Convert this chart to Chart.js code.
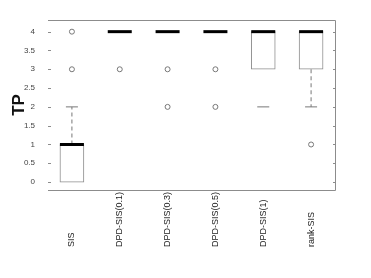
<!DOCTYPE html>
<html>
<head>
<meta charset="utf-8">
<script src="https://cdn.jsdelivr.net/npm/chart.js@4.4.1/dist/chart.umd.min.js"></script>
<style>
  html, body { margin: 0; padding: 0; background: #fff; }
  #wrap { width: 371px; height: 278px; }
</style>
</head>
<body>
<div id="wrap"><canvas id="graficoTP" width="371" height="278"></canvas></div>
<script>
const categorias = ['SIS', 'DPD-SIS(0.1)', 'DPD-SIS(0.3)', 'DPD-SIS(0.5)', 'DPD-SIS(1)', 'rank-SIS'];
const q1 = [0, 4, 4, 4, 3, 3];
const q3 = [1, 4, 4, 4, 4, 4];
const mediana = [1, 4, 4, 4, 4, 4];
const bigodeInf = [0, 4, 4, 4, 2, 2];
const bigodeSup = [2, 4, 4, 4, 4, 4];
const outliers = [[3, 4], [3], [2, 3], [2, 3], [], [1]];
const bigodeTracejado = [true, false, false, false, false, true]; // no DPD-SIS(1) so aparece a ponta
const yTicks = [0, 0.5, 1, 1.5, 2, 2.5, 3, 3.5, 4];

const cinza = '#8c8c8c';

// monta os pontos a partir dos arrays
const caixas = [];
const medianas = [];
const pontas = [];
const tracejado = [];
const pontosOut = [];
categorias.forEach((c, i) => {
    const x = i + 1;
    if (q3[i] > q1[i]) caixas.push({ x: x, y: [q1[i], q3[i]] });
    medianas.push({ x: x, y: mediana[i] });
    if (bigodeSup[i] > q3[i]) {
        pontas.push({ x: x, y: bigodeSup[i] });
        if (bigodeTracejado[i]) tracejado.push({ x: x, y: q3[i] }, { x: x, y: bigodeSup[i] }, { x: x, y: null });
    }
    if (bigodeInf[i] < q1[i]) {
        pontas.push({ x: x, y: bigodeInf[i] });
        if (bigodeTracejado[i]) tracejado.push({ x: x, y: q1[i] }, { x: x, y: bigodeInf[i] }, { x: x, y: null });
    }
    outliers[i].forEach(v => pontosOut.push({ x: x, y: v }));
});

// moldura, ticks internos e rotulos verticais do eixo x
const molduraPlugin = {
    id: 'moldura',
    afterDraw(chart) {
        const ctx = chart.ctx;
        const a = chart.chartArea;
        const ys = chart.scales.y;
        const xs = chart.scales.x;
        ctx.save();
        ctx.strokeStyle = cinza;
        ctx.lineWidth = 1;
        ctx.beginPath();
        ctx.moveTo(a.left, a.top + 0.5);
        ctx.lineTo(a.right + 0.5, a.top + 0.5);
        ctx.lineTo(a.right + 0.5, a.bottom + 0.5);
        ctx.lineTo(a.left, a.bottom + 0.5);
        yTicks.forEach(t => {
            const py = Math.round(ys.getPixelForValue(t)) + 0.5;
            ctx.moveTo(a.left, py);
            ctx.lineTo(a.left + 3, py);
            ctx.moveTo(a.right - 2, py);
            ctx.lineTo(a.right, py);
        });
        ctx.stroke();

        ctx.fillStyle = '#222';
        ctx.font = '9px "Liberation Sans", Arial, sans-serif';
        ctx.textAlign = 'left';
        ctx.textBaseline = 'middle';
        categorias.forEach((c, i) => {
            const px = xs.getPixelForValue(i + 1);
            ctx.save();
            ctx.translate(px, 247);
            ctx.rotate(-Math.PI / 2);
            ctx.fillText(c, 0, 0);
            ctx.restore();
        });
        ctx.restore();
    }
};

new Chart(document.getElementById('graficoTP').getContext('2d'), {
    data: {
        datasets: [
            {
                type: 'bar',
                data: caixas,
                backgroundColor: '#ffffff',
                borderColor: cinza,
                borderWidth: 1,
                borderSkipped: false,
                barThickness: 24,
                order: 5
            },
            {
                type: 'line',
                data: tracejado,
                borderColor: '#777777',
                borderWidth: 1,
                borderDash: [4, 3],
                pointRadius: 0,
                spanGaps: false,
                order: 4
            },
            {
                type: 'scatter',
                data: pontas,
                pointStyle: 'line',
                pointRadius: 6,
                borderColor: '#777777',
                borderWidth: 1,
                order: 3
            },
            {
                type: 'scatter',
                data: medianas,
                pointStyle: 'line',
                pointRadius: 12,
                borderColor: '#000000',
                borderWidth: 3,
                order: 1
            },
            {
                type: 'scatter',
                data: pontosOut,
                pointStyle: 'circle',
                pointRadius: 2.5,
                backgroundColor: '#ffffff',
                borderColor: '#777777',
                borderWidth: 1,
                order: 2
            }
        ]
    },
    options: {
        responsive: false,
        animation: false,
        events: [],
        layout: { padding: { top: 20, right: 36, left: 0, bottom: 0 } },
        plugins: { legend: { display: false }, tooltip: { enabled: false } },
        scales: {
            x: {
                type: 'linear',
                min: 0.5,
                max: 6.5,
                offset: false,
                grid: { display: false },
                border: { display: false },
                ticks: { display: false },
                afterFit(scale) { scale.height = 88; }
            },
            y: {
                type: 'linear',
                min: -0.21,
                max: 4.31,
                grid: { display: false },
                border: { display: false },
                afterBuildTicks(scale) { scale.ticks = yTicks.map(v => ({ value: v })); },
                ticks: {
                    color: '#444',
                    padding: 5,
                    callback: v => String(v),
                    font: { family: '"Liberation Sans", Arial, sans-serif', size: 8 }
                },
                title: {
                    display: true,
                    text: 'TP',
                    color: '#111',
                    padding: { top: 9, bottom: 0 },
                    font: { family: '"Liberation Sans", Arial, sans-serif', size: 17, weight: 'bold' }
                },
                afterFit(scale) { scale.width = 48; }
            }
        }
    },
    plugins: [molduraPlugin]
});
</script>
</body>
</html>
